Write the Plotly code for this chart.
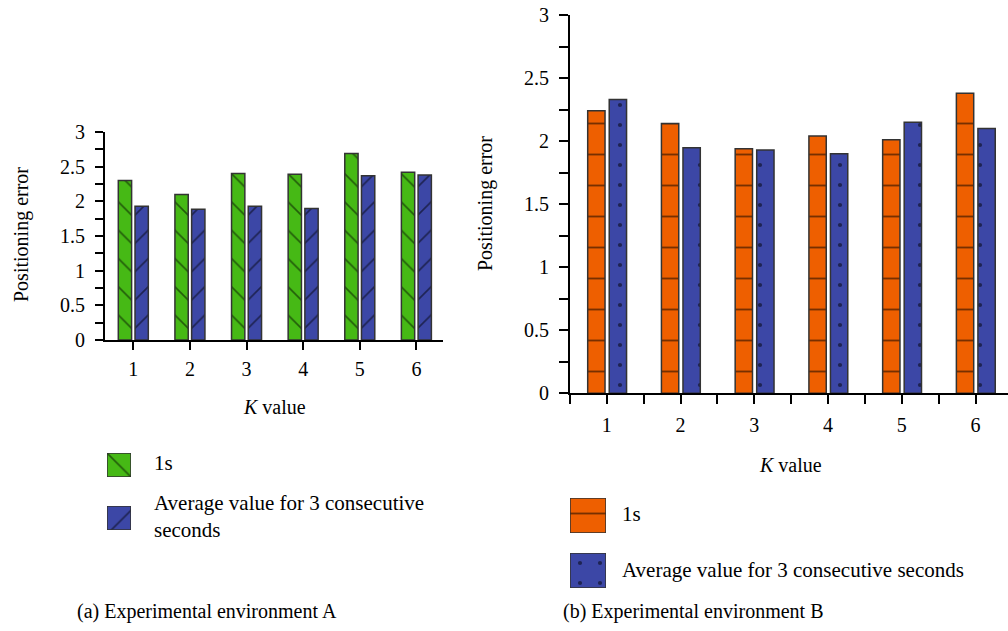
import plotly.graph_objects as go

# K values and positioning errors
k_values = [1, 2, 3, 4, 5, 6]
env_a_1s = [2.30, 2.10, 2.40, 2.39, 2.69, 2.42]
env_a_avg3 = [1.93, 1.885, 1.93, 1.895, 2.37, 2.38]
env_b_1s = [2.24, 2.14, 1.94, 2.04, 2.01, 2.38]
env_b_avg3 = [2.33, 1.947, 1.93, 1.90, 2.15, 2.10]

series_names = ["1s", "Average value for 3 consecutive seconds"]

W, H = 1008, 631
FONT = "Liberation Serif"
GREEN = "#46b915"
BLUE = "#3c47a6"
ORANGE = "#ee5f00"
EDGE = "#333333"

# fill styles per series: (colour, pattern shape, tile size, solidity)
STYLE_A_1S = (GREEN, "\\", 20, 0.08)
STYLE_A_AVG = (BLUE, "/", 20, 0.08)
STYLE_B_1S = (ORANGE, "-", 31, 0.06)
STYLE_B_AVG = (BLUE, ".", 20, 0.035)


def xdom(x0, x1):
    return [x0 / W, x1 / W]


def ydom(top, bottom):
    return [(H - bottom) / H, (H - top) / H]


def bar_marker(style):
    color, shape, size, solidity = style
    return dict(color=color, line=dict(color=EDGE, width=1.5),
                pattern=dict(shape=shape, fgcolor="black", bgcolor=color,
                             size=size, solidity=solidity, fillmode="overlay"))


def bar(x, y, style, xa, ya, offset, width=0.235):
    return go.Bar(x=x, y=y, xaxis=xa, yaxis=ya, offset=offset, width=width,
                  marker=bar_marker(style), showlegend=False, hoverinfo="x+y")


fig = go.Figure()

# Environment A
fig.add_trace(bar(k_values, env_a_1s, STYLE_A_1S, "x", "y", -0.265))
fig.add_trace(bar(k_values, env_a_avg3, STYLE_A_AVG, "x", "y", 0.03))
# Environment B
fig.add_trace(bar(k_values, env_b_1s, STYLE_B_1S, "x2", "y2", -0.26))
fig.add_trace(bar(k_values, env_b_avg3, STYLE_B_AVG, "x2", "y2", 0.032))

# Legend swatches: one single-bar axis per swatch
swatches = [
    (STYLE_A_1S, (107, 131, 453, 477)),
    (STYLE_A_AVG, (107, 131, 506, 530)),
    (STYLE_B_1S, (570, 606, 498, 533)),
    (STYLE_B_AVG, (570, 606, 553, 588)),
]

tick_font = dict(family=FONT, size=20, color="black")
axis_common = dict(showline=True, linecolor="black", linewidth=2, ticks="outside",
                   tickwidth=2, tickcolor="black", showgrid=False, zeroline=False,
                   tickfont=tick_font, automargin=False)

layout = dict(
    template="none",
    width=W, height=H, margin=dict(l=0, r=0, t=0, b=0, pad=0), autosize=False,
    paper_bgcolor="white", plot_bgcolor="white", barmode="overlay",
    showlegend=False, font=dict(family=FONT, color="black"),
    xaxis=dict(domain=xdom(105, 443), range=[0.5, 6.47], tickvals=k_values,
               ticklen=8, anchor="y", ticklabelstandoff=2, **axis_common),
    yaxis=dict(domain=ydom(132, 340), range=[0, 3], dtick=0.5, ticklen=8,
               minor=dict(dtick=0.25, ticks="outside", ticklen=8, tickwidth=2,
                          tickcolor="black"),
               anchor="x", ticklabelstandoff=6, **axis_common),
    xaxis2=dict(domain=xdom(570, 1008), range=[0.5, 6.44], tickvals=k_values,
                ticklen=9, anchor="y2", ticklabelstandoff=4,
                minor=dict(tick0=0.5, dtick=1, ticks="outside", ticklen=9, tickwidth=2,
                           tickcolor="black"),
                **axis_common),
    yaxis2=dict(domain=ydom(15, 393.3), range=[0, 3], dtick=0.5, ticklen=9,
                minor=dict(dtick=0.25, ticks="outside", ticklen=9, tickwidth=2,
                           tickcolor="black"),
                anchor="x2", ticklabelstandoff=6, **axis_common),
)

for i, (style, (x0, x1, y0, y1)) in enumerate(swatches):
    n = i + 3
    fig.add_trace(go.Bar(x=[0], y=[1], width=1, xaxis=f"x{n}", yaxis=f"y{n}",
                         marker=bar_marker(style), showlegend=False, hoverinfo="skip"))
    layout[f"xaxis{n}"] = dict(domain=xdom(x0, x1), range=[-0.5, 0.5], visible=False,
                               fixedrange=True, anchor=f"y{n}", automargin=False)
    layout[f"yaxis{n}"] = dict(domain=ydom(y0, y1), range=[0, 1], visible=False,
                               fixedrange=True, anchor=f"x{n}", automargin=False)

fig.update_layout(**layout)

text_font = dict(family=FONT, size=20, color="black")
legend_font = dict(family=FONT, size=21, color="black")
annotations = [
    dict(text="Positioning error", x=22 / W, y=(H - 235) / H, textangle=-90,
         xanchor="center", yanchor="middle", font=text_font),
    dict(text="Positioning error", x=485 / W, y=(H - 204) / H, textangle=-90,
         xanchor="center", yanchor="middle", font=text_font),
    dict(text="<i>K</i> value", x=274 / W, y=(H - 407) / H, xanchor="center",
         yanchor="middle", font=text_font),
    dict(text="<i>K</i> value", x=790 / W, y=(H - 465) / H, xanchor="center",
         yanchor="middle", font=text_font),
    dict(text=series_names[0], x=152 / W, y=(H - 463) / H, xanchor="left",
         yanchor="middle", font=legend_font),
    dict(text="Average value for 3 consecutive<br>seconds", x=152 / W, y=(H - 516) / H,
         xanchor="left", yanchor="middle", align="left", font=legend_font),
    dict(text=series_names[0], x=620 / W, y=(H - 514) / H, xanchor="left",
         yanchor="middle", font=legend_font),
    dict(text=series_names[1], x=620 / W, y=(H - 570) / H, xanchor="left",
         yanchor="middle", font=legend_font),
    dict(text="(a) Experimental environment A", x=207 / W, y=(H - 611) / H,
         xanchor="center", yanchor="middle", font=text_font),
    dict(text="(b) Experimental environment B", x=693 / W, y=(H - 611) / H,
         xanchor="center", yanchor="middle", font=text_font),
]
for a in annotations:
    fig.add_annotation(xref="paper", yref="paper", showarrow=False, **a)

fig.write_html("out.html")
